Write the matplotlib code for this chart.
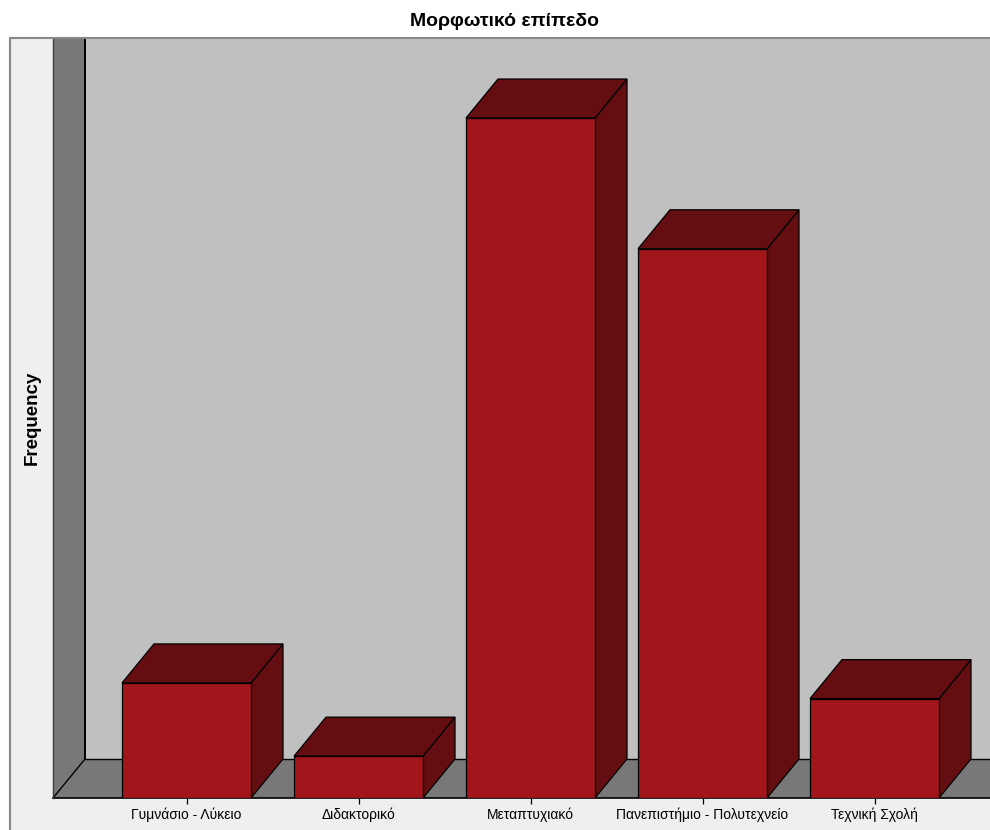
import matplotlib
matplotlib.use("Agg")
import matplotlib.pyplot as plt
from matplotlib.patches import Polygon, Rectangle

# Education level counts
categories = ["Γυμνάσιο - Λύκειο", "Διδακτορικό", "Μεταπτυχιακό",
              "Πανεπιστήμιο - Πολυτεχνείο", "Τεχνική Σχολή"]
frequency = [22, 8, 130, 105, 19]

# colours of the SPSS style 3D chart
FRONT = "#a0161a"
SHADE = "#640e11"
BACK_WALL = "#c0c0c0"
DARK_WALL = "#787878"
PANEL = "#efefef"

plt.rcParams['font.family'] = ['Liberation Sans', 'DejaVu Sans']

W, H = 990, 830
fig = plt.figure(figsize=(W / 100, H / 100), dpi=100)

# plot area in pixels (right edge runs past the image)
left_px, right_px, top_px, bottom_px = 53, 1000, 38, 798
ax = fig.add_axes([left_px / W, 1 - bottom_px / H,
                   (right_px - left_px) / W, (bottom_px - top_px) / H])

step_px = 172.0            # pixels between categories
first_px = 186.5           # centre of first bar
xmin = -(first_px - left_px) / step_px
xmax = xmin + (right_px - left_px) / step_px
ytop = 145.3
ax.set_xlim(xmin, xmax)
ax.set_ylim(0, ytop)

# depth of the 3D effect, converted to data units
dx = 32 / step_px
dy = 39 * ytop / (bottom_px - top_px)
bar_w = 129 / step_px

ax.patch.set_visible(False)
for s in ax.spines.values():
    s.set_visible(False)

# back wall, left wall, floor
ax.add_patch(Polygon([(xmin + dx, dy), (xmax + 1, dy), (xmax + 1, ytop),
                      (xmin + dx, ytop)], closed=True, facecolor=BACK_WALL,
                     edgecolor='none', zorder=1))
ax.add_patch(Polygon([(xmin, 0), (xmin + dx, dy), (xmin + dx, ytop),
                      (xmin, ytop)], closed=True, facecolor=DARK_WALL,
                     edgecolor='none', zorder=1))
ax.add_patch(Polygon([(xmin, 0), (xmin + dx, dy), (xmax + 1, dy),
                      (xmax + 1, 0)], closed=True, facecolor=DARK_WALL,
                     edgecolor='none', zorder=1))
ax.plot([xmin, xmax + 1], [0, 0], color='black', lw=1.2, zorder=2, clip_on=False)
ax.plot([xmin + dx, xmax + 1], [dy, dy], color='black', lw=1.0, zorder=2)
ax.plot([xmin, xmin + dx], [0, dy], color='black', lw=1.0, zorder=2)
ax.plot([xmin + dx, xmin + dx], [dy, ytop], color='black', lw=1.4, zorder=2)
ax.plot([xmin, xmin], [0, ytop], color='#3a3a3a', lw=1.0, zorder=2, clip_on=False)

# bars: side, top and front faces
for i, v in enumerate(frequency):
    x0, x1 = i - bar_w / 2, i + bar_w / 2
    side = [(x1, 0), (x1 + dx, dy), (x1 + dx, v + dy), (x1, v)]
    top = [(x0, v), (x0 + dx, v + dy), (x1 + dx, v + dy), (x1, v)]
    front = [(x0, 0), (x1, 0), (x1, v), (x0, v)]
    for pts, col in ((side, SHADE), (top, SHADE), (front, FRONT)):
        ax.add_patch(Polygon(pts, closed=True, facecolor=col,
                             edgecolor='black', lw=0.9, zorder=3))

ax.set_xticks(range(len(categories)), categories, fontsize=10)
ax.set_yticks([])
ax.tick_params(axis='x', length=4.5, width=0.9, color='black', pad=2.5)

# outer frame and label panel
fig.patches.append(Rectangle((10 / W, -0.05), (right_px - 10) / W,
                             1.05 - top_px / H, transform=fig.transFigure,
                             facecolor=PANEL, edgecolor='none', zorder=-1))
fig.patches.append(Rectangle((10 / W, -0.05), (right_px - 10) / W,
                             1.05 - top_px / H, transform=fig.transFigure,
                             facecolor='none', edgecolor='#888888', lw=1.5,
                             zorder=5))

fig.text(505 / W, 1 - 22 / H, "Μορφωτικό επίπεδο", ha='center', va='center',
         fontsize=14, fontweight='bold')
fig.text(32 / W, 1 - 418 / H, "Frequency", rotation=90, ha='center',
         va='center', fontsize=13.5, fontweight='bold')

fig.savefig("out.png", dpi=100)
